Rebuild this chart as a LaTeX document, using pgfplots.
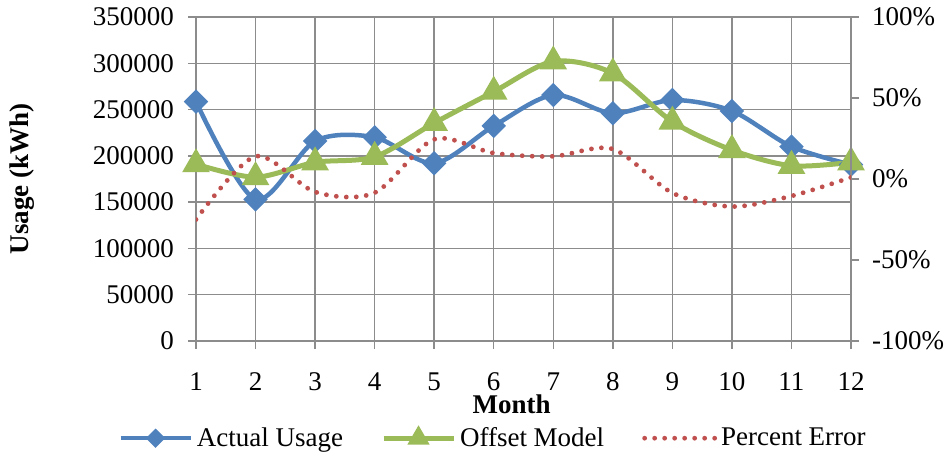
\documentclass[border=0pt]{standalone}
\usepackage{fontspec}
\setmainfont{Liberation Serif}
\usepackage{pgfplots}
\pgfplotsset{compat=1.18}
\definecolor{cblue}{HTML}{4F81BD}
\definecolor{cgreen}{HTML}{9BBB59}
\definecolor{cred}{HTML}{C0504D}
\definecolor{gridgray}{HTML}{8C8C8C}
\pgfplotsset{
  common/.style={
    at={(0,0)}, anchor=south west,
    scale only axis, width=327.5pt, height=162pt,
    xmin=1, xmax=12,
    tick align=outside, major tick length=4pt,
    tick style={gridgray, line width=0.75pt},
    axis line style={gridgray, line width=0.75pt},
    tick label style={font=\fontsize{13.5}{16}\selectfont, black},
  }
}
\begin{document}
\begin{tikzpicture}[font=\fontsize{13.5}{16}\selectfont]
\useasboundingbox (-98pt,-56.5pt) rectangle (374.5pt,170.5pt);
\begin{axis}[common,
  ymin=0, ymax=350000,
  xtick={1,2,3,4,5,6,7,8,9,10,11,12},
  xticklabels={1,2,3,4,5,6,7,8,9,10,11,12},
  ytick={0,50000,100000,150000,200000,250000,300000,350000},
  yticklabels={0,50000,100000,150000,200000,250000,300000,350000},
  scaled y ticks=false,
  xtick pos=left, ytick pos=left,
  xticklabel style={inner sep=0pt, yshift=-11.5pt},
  yticklabel style={xshift=-3.5pt},
  grid=major, major grid style={gridgray, line width=0.75pt},
  xlabel={\textbf{Month}},
  xlabel style={at={(axis description cs:0.482,-0.195)}, anchor=center, inner sep=0pt},
  ylabel={\textbf{Usage (kWh)}},
  ylabel style={at={(axis description cs:-0.266,0.5)}, anchor=center},
  legend style={at={(axis description cs:0.455,-0.30)}, anchor=center, draw=none, fill=none,
    legend columns=3, font=\fontsize{13.5}{16}\selectfont,
    /tikz/every even column/.append style={column sep=17pt}},
  legend image code/.code={\draw[mark repeat=2,mark phase=2,#1,/tikz/every mark/.append style={scale=0.72}] plot coordinates {(0pt,0pt) (17.5pt,0pt) (35pt,0pt)};},
]
\addplot[cblue, line width=2.25pt, smooth, mark=square*, mark size=3.2pt, mark options={rotate=45, solid}] coordinates {
(1,258500)(2,153000)(3,216000)(4,220000)(5,192000)(6,232300)(7,265700)(8,246000)(9,260300)(10,248500)(11,210000)(12,190500)};
\addlegendentry{Actual Usage}
\addplot[cgreen, line width=2.5pt, smooth, mark=triangle*, mark size=5.5pt, mark options={solid}] coordinates {
(1,191000)(2,177000)(3,193000)(4,199000)(5,235500)(6,269300)(7,302000)(8,289200)(9,237000)(10,206300)(11,189300)(12,193000)};
\addlegendentry{Offset Model}
\addlegendimage{cred, line width=2.4pt, line cap=round, dash pattern=on 0pt off 5pt}
\addlegendentry{Percent Error}
\end{axis}
\begin{axis}[common,
  ymin=-100, ymax=100,
  axis x line=none, axis y line*=right,
  ytick={-100,-50,0,50,100},
  yticklabels={-100\%,-50\%,0\%,50\%,100\%},
  yticklabel style={xshift=3pt},
]
\addplot[cred, line width=2.4pt, line cap=round, dash pattern=on 0pt off 5pt, smooth] coordinates {
(1,-25)(2,14)(3,-8)(4,-8.5)(5,24.5)(6,16)(7,14)(8,18.5)(9,-8.6)(10,-17)(11,-10.5)(12,1)};
\end{axis}
\end{tikzpicture}
\end{document}
